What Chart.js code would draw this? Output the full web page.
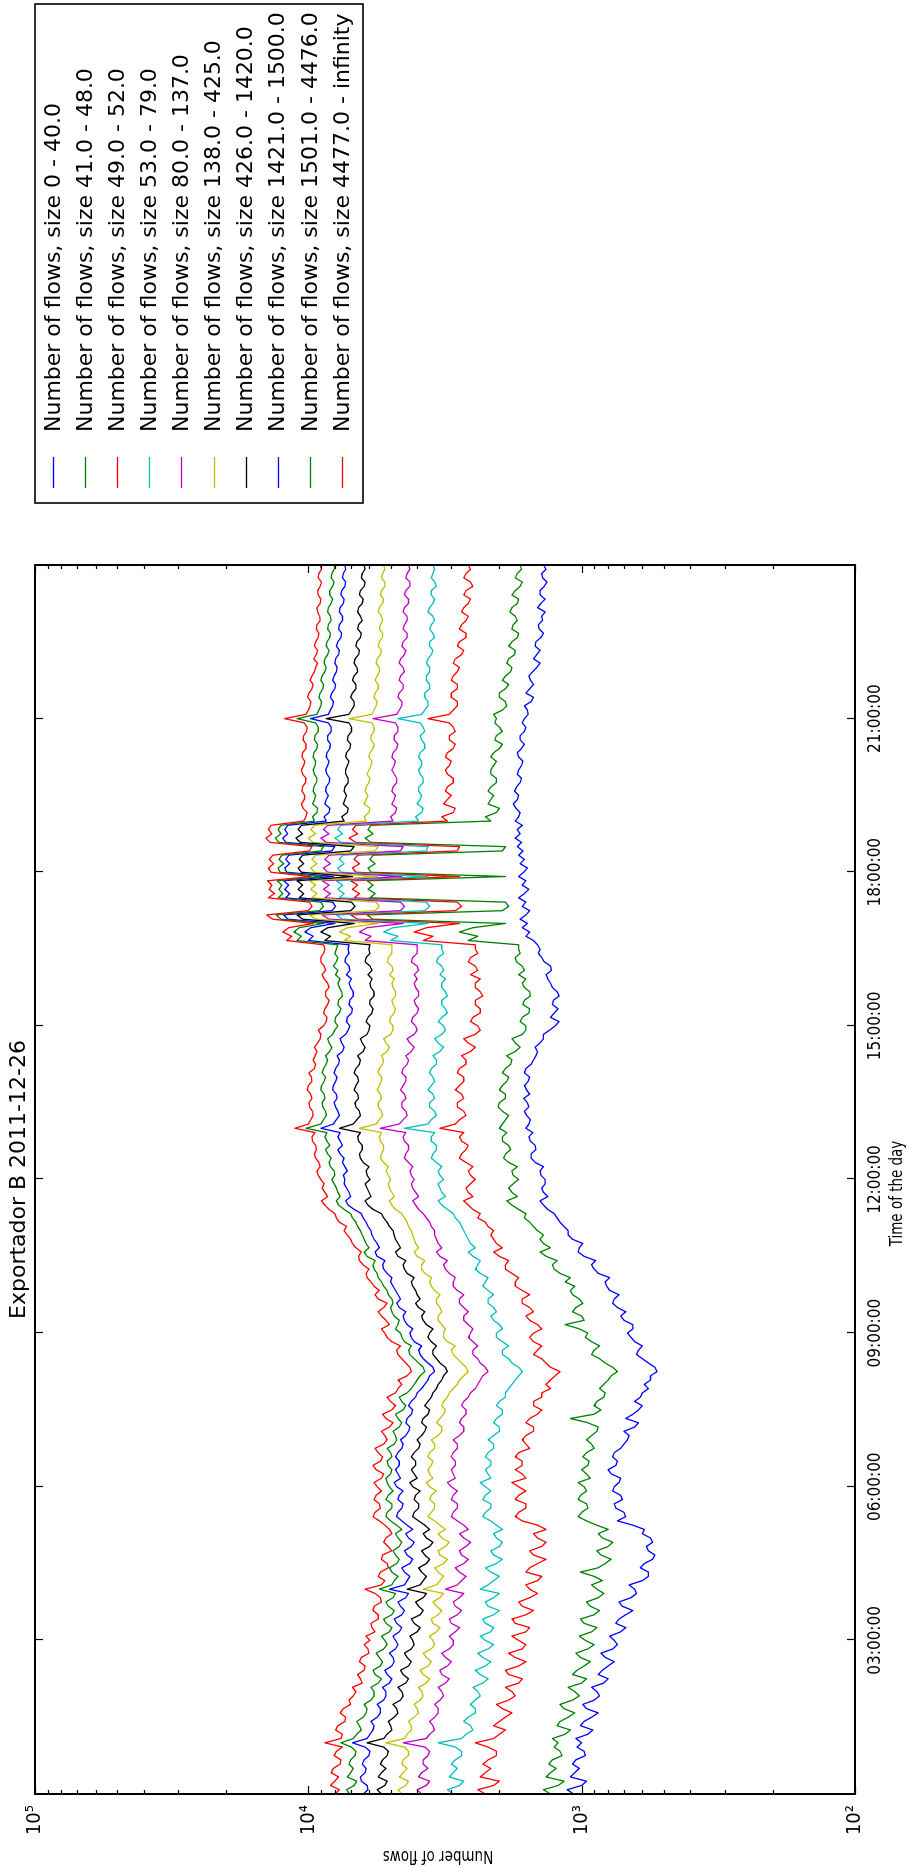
<!DOCTYPE html>
<html>
<head>
<meta charset="utf-8">
<script src="https://cdn.jsdelivr.net/npm/chart.js@4.4.1/dist/chart.umd.min.js"></script>
<style>
  html, body { margin: 0; padding: 0; background: #fff; }
  body { width: 910px; height: 1867px; overflow: hidden; position: relative; }
  /* the landscape figure is turned a quarter turn counter-clockwise */
  #turn { position: absolute; left: 0; top: 0; width: 1867px; height: 910px;
          transform-origin: 0 0; transform: translateY(1867px) rotate(-90deg); }
  canvas { display: block; }
</style>
</head>
<body>
<div id="turn"><canvas id="chart" width="1867" height="910"></canvas></div>
<script>
// one sample every 5 minutes, 00:00 through 24:00 (289 samples per series)
const sampleStepMinutes = 5;

// flows per sample, one row per hour (:00 ... :55), final value at 24:00
const f0_40 = [
  1070,1130,1000,960,1100,1060,1020,1080,1050,970,980,1040,
  1000,1050,950,910,1010,980,920,870,960,990,900,860,
  880,920,830,800,870,840,800,760,820,850,770,740,
  760,790,720,690,750,730,690,650,710,730,660,630,
  640,670,600,570,570,610,590,550,540,570,580,550,
  560,600,590,650,740,690,700,750,760,710,720,770,
  760,730,720,780,800,750,740,770,760,720,700,680,
  670,700,640,620,690,650,620,600,640,610,600,570,
  590,560,560,530,540,570,600,630,620,600,640,660,
  680,650,650,700,720,690,740,770,760,730,790,810,
  820,790,870,900,920,890,980,1030,1020,990,1080,1120,
  1120,1160,1200,1230,1260,1330,1380,1420,1330,1380,1400,1360,
  1360,1410,1420,1380,1480,1530,1530,1470,1480,1540,1560,1510,
  1600,1560,1540,1590,1620,1560,1580,1630,1550,1590,1620,1570,
  1550,1620,1600,1530,1500,1470,1450,1480,1420,1380,1380,1310,
  1250,1210,1300,1260,1220,1280,1270,1210,1230,1280,1300,1330,
  1350,1290,1300,1370,1400,1440,1420,1450,1500,1600,1550,1650,
  1580,1680,1600,1550,1650,1600,1700,1620,1560,1650,1600,1700,
  1630,1580,1680,1620,1700,1640,1720,1660,1750,1680,1720,1650,
  1750,1700,1680,1740,1780,1720,1700,1760,1730,1680,1660,1720,
  1700,1660,1640,1700,1720,1660,1620,1680,1680,1620,1600,1650,
  1620,1570,1580,1620,1530,1500,1600,1550,1500,1540,1560,1510,
  1460,1420,1500,1460,1420,1480,1470,1410,1380,1430,1440,1390,
  1400,1360,1450,1410,1360,1420,1420,1370,1340,1390,1400,1350,
  1380
];
const f41_48 = [
  1300,1380,1220,1160,1350,1300,1240,1320,1280,1180,1200,1260,
  1220,1280,1150,1100,1230,1200,1120,1060,1160,1200,1080,1020,
  1060,1120,1000,960,1080,1040,980,930,1010,1050,950,900,
  970,1020,920,880,980,1010,900,860,930,960,870,830,
  880,920,840,900,1010,870,820,780,850,880,800,770,
  840,870,800,880,960,1030,1000,950,960,1030,1010,960,
  980,1030,930,960,1000,950,940,990,960,900,920,960,
  920,880,870,950,1100,900,850,900,880,830,820,860,
  830,800,780,740,770,820,860,920,900,860,920,970,
  950,1020,1150,980,1000,1080,1050,990,1020,1080,1100,1060,
  1150,1100,1200,1260,1280,1230,1350,1420,1300,1380,1420,1380,
  1450,1500,1550,1620,1600,1700,1800,1880,1720,1800,1850,1780,
  1700,1780,1800,1720,1850,1930,1900,1820,1850,1950,1950,1880,
  2000,1950,1900,1850,1950,2020,2000,1900,1900,2000,1950,1880,
  1850,1950,1900,1820,1800,1880,1750,1680,1750,1800,1650,1600,
  1600,1680,1650,1560,1550,1640,1620,1540,1550,1620,1650,1600,
  1700,1620,1650,1730,1750,1680,1700,1700,2600,2400,2800,2500,
  1900,5800,6100,1950,1850,1900,5950,5700,6050,5800,6100,1900,
  5900,6050,5700,5950,5800,1950,1900,5900,6200,5800,6050,5900,
  2150,2250,2050,2000,2200,2150,2100,2200,2150,2050,2050,2150,
  2150,2100,2050,2150,2100,2000,1950,2080,2050,1950,2000,2080,
  2050,2100,1950,1880,1900,2000,2000,1900,1850,1950,1900,1820,
  1800,1880,1850,1760,1750,1850,1800,1720,1700,1800,1780,1720,
  1750,1830,1800,1720,1700,1800,1750,1680,1650,1750,1720,1660,
  1680
];
const f49_52 = [
  2250,2400,2100,2000,2350,2250,2150,2300,2200,2050,2050,2200,
  2450,2100,2000,1900,2100,2000,1900,1800,1950,2050,1850,1750,
  1800,1900,1700,1650,1850,1900,1700,1600,1750,1850,1650,1600,
  1700,1800,1600,1550,1750,1800,1600,1500,1650,1700,1550,1450,
  1550,1600,1450,1400,1600,1550,1450,1350,1500,1550,1400,1350,
  1450,1500,1350,1450,1650,1750,1700,1600,1600,1750,1700,1600,
  1700,1800,1600,1650,1750,1650,1650,1750,1700,1550,1600,1650,
  1600,1500,1500,1600,1550,1450,1400,1500,1500,1400,1400,1300,
  1350,1300,1250,1200,1300,1350,1400,1500,1450,1400,1500,1550,
  1500,1400,1450,1550,1600,1500,1550,1650,1650,1550,1650,1750,
  1750,1700,1800,1900,1900,1850,2000,2100,1950,2050,2100,2150,
  2100,2200,2250,2400,2350,2500,2600,2700,2500,2600,2650,2550,
  2450,2550,2600,2500,2650,2800,2750,2650,2600,2750,2800,2700,
  3300,2900,2800,2650,2700,2850,2850,2700,2750,2900,2800,2700,
  2700,2850,2800,2650,2650,2750,2550,2450,2600,2700,2450,2350,
  2400,2550,2500,2350,2350,2450,2450,2300,2350,2450,2450,2350,
  2550,2400,2450,2600,2550,2400,2450,2450,3800,3500,4100,3700,
  2800,6600,7000,2900,2750,2850,6800,6500,6900,6600,7000,2800,
  6700,6900,6500,6800,6600,2850,2800,6700,7100,6600,6900,6700,
  3100,3250,2950,2900,3200,3100,3000,3150,3100,2950,2950,3100,
  3150,3050,3000,3150,3100,2950,2900,3050,3050,2900,2950,3050,
  3650,3050,2950,2850,2850,3000,3000,2850,2850,3000,2950,2850,
  2800,2950,2900,2750,2700,2850,2800,2650,2650,2800,2750,2650,
  2600,2750,2700,2600,2550,2700,2650,2500,2550,2700,2650,2550,
  2600
];
const f53_79 = [
  2950,3100,2800,2700,3050,2950,2850,3000,2900,2750,2750,2900,
  3350,2750,2650,2500,2550,2700,2600,2450,2450,2550,2450,2350,
  2400,2500,2300,2200,2350,2450,2250,2150,2300,2400,2200,2100,
  2250,2350,2150,2100,2250,2300,2100,2000,2200,2250,2100,2000,
  2350,2200,2100,2000,2150,2250,2050,1950,2100,2150,2000,1950,
  2050,2100,1950,2050,2150,2300,2250,2150,2150,2300,2250,2150,
  2250,2350,2150,2200,2250,2150,2150,2250,2200,2100,2100,2200,
  2100,2000,2000,2100,2050,1950,1950,2050,2000,1900,1900,1850,
  1800,1750,1700,1650,1700,1800,1850,1950,1950,1850,1950,2050,
  2050,1950,2000,2100,2150,2050,2100,2200,2200,2100,2200,2300,
  2250,2200,2350,2450,2400,2350,2500,2600,2450,2550,2600,2650,
  2700,2750,2800,2900,2950,3100,3250,3350,3150,3250,3300,3350,
  3200,3300,3350,3250,3400,3550,3500,3400,3400,3550,3550,3450,
  4450,3650,3550,3400,3450,3600,3600,3450,3500,3650,3550,3450,
  3500,3600,3550,3400,3400,3500,3300,3200,3350,3450,3250,3150,
  3200,3350,3250,3100,3150,3250,3250,3100,3150,3250,3250,3150,
  3300,3200,3250,3400,3350,3200,3250,3250,5000,4700,5300,4900,
  3650,7500,7900,3750,3600,3700,7700,7400,7800,7500,7900,3650,
  7600,7800,7400,7700,7500,3700,3650,7600,8000,7500,7800,7600,
  3950,4050,3850,3800,4000,3900,3850,3950,3950,3800,3800,3900,
  3950,3850,3850,3950,3900,3750,3750,3850,3900,3750,3800,3900,
  4700,3850,3750,3650,3650,3750,3750,3600,3600,3700,3700,3600,
  3600,3700,3650,3550,3500,3600,3600,3450,3500,3600,3550,3450,
  3500,3650,3600,3500,3450,3550,3550,3400,3450,3550,3500,3450,
  3500
];
const f80_137 = [
  3850,4000,3700,3600,3950,3850,3650,3800,3800,3650,3600,3750,
  4500,3700,3600,3450,3500,3600,3450,3350,3350,3450,3300,3200,
  3250,3350,3150,3050,3250,3300,3100,3000,3150,3250,3050,2950,
  2950,3050,2900,2800,3000,3050,2850,2750,2900,2950,2800,2700,
  3150,2850,2750,2650,2800,2900,2700,2600,2750,2800,2650,2550,
  2700,2800,2600,2700,2850,3000,2950,2850,2850,3000,2950,2850,
  3000,3100,2900,2950,3000,2900,2900,3000,2950,2850,2850,2950,
  2800,2700,2700,2800,2750,2650,2650,2750,2700,2600,2550,2450,
  2400,2350,2300,2200,2250,2350,2400,2500,2500,2400,2500,2600,
  2550,2500,2600,2700,2700,2600,2700,2800,2800,2700,2850,2950,
  2950,2900,3050,3150,3200,3100,3300,3400,3250,3350,3400,3450,
  3450,3550,3600,3700,3800,3950,4050,4150,3950,4050,4150,4200,
  4100,4200,4250,4150,4300,4450,4400,4300,4300,4450,4500,4400,
  5450,4650,4500,4350,4400,4550,4550,4400,4450,4600,4500,4400,
  4400,4550,4500,4350,4300,4400,4200,4100,4250,4350,4100,4000,
  4050,4200,4150,4000,3950,4050,4100,3950,3950,4050,4100,4000,
  4100,3950,4000,4200,4150,4000,4000,4000,6200,5900,6500,6100,
  4500,8400,8900,4600,4450,4600,8700,8300,8800,8400,8900,4550,
  8500,8800,8300,8700,8400,4600,4500,8600,9000,8400,8800,8500,
  4900,5000,4800,4750,4950,4850,4800,4950,4900,4750,4750,4850,
  4950,4850,4800,4950,4900,4750,4700,4850,4850,4700,4700,4800,
  5800,4750,4650,4550,4550,4700,4650,4500,4500,4650,4600,4450,
  4500,4650,4600,4450,4400,4550,4500,4350,4350,4500,4450,4350,
  4350,4500,4450,4300,4300,4450,4400,4250,4250,4400,4350,4250,
  4300
];
const f138_425 = [
  4550,4700,4400,4300,4650,4500,4350,4550,4500,4300,4300,4450,
  5200,4450,4350,4200,4200,4300,4100,3950,4000,4100,3900,3800,
  3850,3950,3700,3600,3800,3900,3650,3550,3700,3800,3550,3450,
  3500,3600,3400,3300,3500,3550,3350,3250,3400,3500,3300,3200,
  3800,3400,3300,3200,3350,3450,3200,3100,3300,3350,3150,3050,
  3250,3350,3150,3300,3450,3650,3550,3450,3450,3600,3550,3400,
  3600,3700,3500,3600,3650,3550,3500,3650,3600,3450,3450,3550,
  3350,3250,3250,3400,3300,3200,3150,3250,3200,3100,3050,2950,
  2850,2800,2700,2600,2650,2750,2850,2950,3000,2900,3100,3200,
  3200,3150,3250,3350,3350,3250,3300,3400,3400,3300,3450,3550,
  3600,3550,3750,3850,3850,3750,4000,4100,3950,4050,4100,4150,
  4200,4300,4350,4450,4550,4800,4950,5050,4850,4950,5050,5100,
  5000,5100,5200,5100,5300,5450,5400,5300,5300,5450,5500,5400,
  6500,5650,5500,5350,5400,5550,5550,5400,5450,5600,5500,5400,
  5400,5550,5500,5350,5300,5400,5150,5050,5200,5300,5000,4900,
  4900,5050,5000,4850,4800,4900,4950,4800,4800,4900,4950,4850,
  5050,4900,4950,5150,5100,4950,4950,4950,7400,7000,7700,7200,
  5550,9400,9900,5700,5500,5650,9700,9300,9800,9400,9900,5600,
  9500,9800,9300,9700,9400,5700,5550,9600,10000,9400,9800,9500,
  6150,6250,6000,5950,6250,6150,6050,6200,6150,6000,5950,6100,
  6000,5900,5850,6000,5950,5800,5750,5900,5900,5750,5750,5850,
  7100,5850,5750,5650,5600,5750,5700,5550,5550,5700,5600,5500,
  5500,5650,5600,5450,5400,5550,5500,5350,5350,5500,5450,5350,
  5400,5550,5500,5350,5300,5450,5400,5250,5250,5400,5350,5250,
  5300
];
const f426_1420 = [
  5400,5600,5250,5150,5550,5400,5200,5450,5350,5150,5100,5300,
  6100,5300,5150,4950,5000,5100,4850,4700,4750,4900,4600,4500,
  4550,4700,4400,4300,4500,4600,4300,4200,4350,4450,4200,4100,
  4150,4250,4000,3900,4100,4200,3900,3800,3950,4050,3800,3700,
  4350,3900,3800,3700,3850,3950,3700,3600,3750,3850,3600,3500,
  3700,3800,3600,3750,3950,4150,4100,3950,3950,4100,4050,3900,
  4150,4250,4000,4100,4200,4050,4050,4200,4100,3950,3900,4000,
  3850,3750,3700,3850,3800,3650,3600,3750,3650,3550,3500,3400,
  3350,3250,3200,3100,3150,3300,3400,3500,3500,3400,3550,3650,
  3600,3500,3700,3800,3850,3750,3950,4050,3900,4000,4050,4150,
  4200,4100,4350,4450,4500,4400,4700,4800,4600,4700,4800,4850,
  4900,5050,5150,5300,5400,5800,6050,6200,5900,6000,6100,6200,
  5950,6100,6150,6000,6300,6450,6500,6350,6350,6550,6600,6450,
  7700,6850,6650,6450,6500,6700,6750,6550,6600,6800,6700,6550,
  6600,6800,6700,6500,6450,6600,6300,6200,6350,6450,6100,6000,
  5950,6150,6050,5850,5800,5950,5950,5750,5750,5900,5950,5850,
  6050,5850,5950,6200,6150,5950,6000,5950,8700,8300,9000,8500,
  6800,10500,11000,7000,6750,6950,10800,10400,10900,10500,11000,6900,
  10600,10900,10400,10800,10500,7000,6800,10700,11100,10500,10900,10600,
  7400,7550,7200,7150,7450,7350,7250,7400,7350,7150,7150,7300,
  7300,7200,7100,7300,7250,7050,7000,7200,7150,6950,6950,7100,
  8600,7100,6950,6800,6800,7000,6900,6700,6700,6900,6800,6600,
  6650,6800,6750,6550,6500,6700,6650,6450,6400,6600,6550,6350,
  6450,6600,6550,6350,6300,6500,6450,6250,6200,6400,6350,6200,
  6250
];
const f1421_1500 = [
  6300,6050,6100,6400,6450,6200,6150,6350,6250,6000,5950,6200,
  6900,6100,5950,5800,5750,5900,5600,5450,5450,5600,5300,5200,
  5200,5350,5050,4950,5150,5250,4950,4850,4900,5050,4800,4700,
  4800,4900,4650,4550,4750,4850,4550,4450,4600,4700,4400,4300,
  5050,4450,4350,4250,4450,4550,4250,4150,4350,4450,4200,4100,
  4300,4400,4150,4350,4550,4750,4700,4550,4500,4700,4650,4500,
  4750,4850,4600,4700,4800,4650,4650,4800,4700,4550,4500,4600,
  4400,4300,4250,4400,4350,4200,4150,4300,4200,4050,4000,3850,
  3750,3650,3600,3450,3500,3650,3800,3900,3950,3850,4100,4200,
  4250,4150,4350,4450,4500,4400,4650,4750,4600,4700,4800,4900,
  5000,4950,5150,5300,5350,5250,5600,5700,5500,5600,5750,5850,
  5900,6050,6150,6300,6400,6800,7150,7300,7000,7100,7250,7400,
  7350,7450,7200,7350,7500,7400,7650,7800,7500,7650,7800,7650,
  9000,8100,7900,7700,7800,7950,8050,7850,7900,8150,8100,7950,
  7850,8050,7950,7750,7700,7850,7500,7400,7550,7650,7300,7150,
  7050,7250,7200,6950,6900,7100,7050,6850,6850,7000,7100,6950,
  7250,7050,7100,7350,7300,7100,7150,7100,10000,9600,10300,9800,
  8000,11900,12300,8200,7950,8150,12100,11700,12200,11800,12300,8100,
  12000,12200,11700,12100,11800,8200,8000,12100,12400,11900,12200,11900,
  8600,8750,8400,8350,8700,8600,8450,8650,8600,8400,8350,8550,
  8650,8500,8400,8600,8550,8350,8300,8500,8500,8250,8250,8450,
  9800,8450,8300,8150,8100,8300,8200,8000,7950,8150,8050,7900,
  7850,8000,7950,7750,7700,7900,7800,7600,7550,7750,7700,7500,
  7500,7700,7650,7450,7400,7600,7550,7350,7300,7500,7450,7300,
  7350
];
const f1501_4476 = [
  7050,7250,6800,6650,7200,7000,6850,7100,7000,6750,6700,6950,
  7600,6850,6650,6400,6500,6650,6300,6150,6100,6250,5900,5750,
  5750,5900,5550,5400,5700,5800,5450,5350,5500,5650,5300,5150,
  5250,5400,5050,4950,5200,5300,4950,4850,5100,5200,4900,4800,
  5500,4950,4850,4700,4950,5050,4750,4650,4800,4900,4650,4550,
  4700,4800,4550,4750,5000,5200,5150,4950,4950,5200,5100,4900,
  5050,5150,5200,5000,4950,5100,5150,4950,5000,5150,4850,4750,
  4800,4900,4650,4550,4700,4800,4500,4400,4550,4650,4350,4200,
  4100,4000,3900,3750,3800,3950,4100,4250,4300,4200,4450,4550,
  4600,4800,4700,4650,4850,4950,5000,4900,4950,5100,5150,5300,
  5400,5550,5600,5750,5800,5700,6100,6250,6000,6150,6250,6350,
  6450,6600,6700,6900,7000,7400,7750,7900,7650,7800,7900,8050,
  8200,8000,8050,8300,8400,8250,8500,8650,8350,8550,8700,8550,
  10200,9000,8800,8600,8650,8850,8900,8700,8750,9000,8950,8750,
  8650,8900,8800,8600,8500,8650,8350,8200,8400,8500,8150,8000,
  7800,8000,7950,7700,7600,7800,7750,7500,7550,7700,7800,7650,
  7950,7800,8100,7900,7800,8000,7900,7800,11000,10600,11300,10800,
  8800,12600,13100,9100,8800,9000,12900,12400,12800,12500,13000,8900,
  12700,12900,12300,12800,12500,9000,8800,12800,13200,12600,12900,12600,
  9500,9650,9300,9250,9650,9500,9400,9600,9550,9350,9300,9500,
  9600,9450,9400,9600,9550,9300,9250,9500,9450,9200,9200,9400,
  11000,9300,9150,9000,8950,9150,9050,8850,8800,9000,8900,8700,
  8600,8750,8700,8500,8400,8600,8550,8350,8300,8500,8450,8250,
  8300,8500,8450,8250,8150,8350,8350,8150,8050,8250,8200,8050,
  8000
];
const f4477_inf = [
  7990,7700,8300,8000,7750,8250,8100,7650,7600,8050,7900,7500,
  8700,7600,7500,7950,7800,7350,7300,7650,7450,7000,7100,6850,
  6700,6900,6350,6450,6600,6250,6200,6500,6400,6000,6050,6250,
  5950,6150,5700,5850,5900,5550,5550,5800,5750,5400,5450,5700,
  6200,5400,5250,5550,5450,5100,5150,5400,5350,4950,5100,5300,
  5200,4950,5050,5250,5500,5800,5700,5450,5500,5750,5650,5400,
  5600,5750,5400,5300,5650,5800,5450,5350,5550,5700,5300,5150,
  5250,5400,5050,4900,5200,5350,4950,4800,5000,5150,4800,4700,
  4550,4700,4350,4200,4250,4400,4550,4700,4750,4600,4950,5150,
  5250,5400,5050,5200,5400,5550,5300,5150,5550,5700,5500,5750,
  5900,6100,6150,6000,6300,6500,6550,6400,6700,6900,7000,7200,
  7400,7250,7700,7900,8000,8400,8700,8950,8500,8700,8900,8750,
  9000,9200,9300,9050,9150,9400,9500,9350,9400,9650,9700,9450,
  11200,10000,9800,9600,9650,9900,9950,9700,9800,10100,10000,9700,
  9750,9950,9500,9400,9600,9450,9300,9500,9250,9050,9000,9200,
  8800,8600,8550,8800,8700,8500,8400,8650,8650,8400,8500,8750,
  8900,8650,8750,9000,9000,8800,8700,8800,12000,11500,12400,11800,
  9600,13500,14200,10000,9700,9900,14000,13300,13900,13600,14100,9800,
  13700,14000,13400,13900,13500,9900,9700,13800,14300,13600,14000,13700,
  10400,10200,10100,10450,10600,10350,10300,10550,10500,10250,10200,10500,
  10600,10400,10300,10550,10500,10200,10200,10450,10400,10150,10100,10350,
  12200,10200,10000,9850,9800,10050,9950,9700,9600,9850,9700,9500,
  9400,9250,9550,9350,9250,9500,9400,9200,9150,9350,9300,9050,
  9100,9250,9300,9050,9000,9200,9250,9050,8950,9200,9150,8950,
  9050
];

const seriesNames = [
  'Number of flows, size 0 - 40.0',
  'Number of flows, size 41.0 - 48.0',
  'Number of flows, size 49.0 - 52.0',
  'Number of flows, size 53.0 - 79.0',
  'Number of flows, size 80.0 - 137.0',
  'Number of flows, size 138.0 - 425.0',
  'Number of flows, size 426.0 - 1420.0',
  'Number of flows, size 1421.0 - 1500.0',
  'Number of flows, size 1501.0 - 4476.0',
  'Number of flows, size 4477.0 - infinity'
];
const seriesValues = [f0_40, f41_48, f49_52, f53_79, f80_137, f138_425, f426_1420, f1421_1500, f1501_4476, f4477_inf];
const seriesColors = ['#0000ff', '#008000', '#ff0000', '#00bfbf', '#bf00bf', '#bfbf00', '#000000', '#0000ff', '#008000', '#ff0000'];

const timeTicks = [180, 360, 540, 720, 900, 1080, 1260];
const timeTickLabels = ['03:00:00', '06:00:00', '09:00:00', '12:00:00', '15:00:00', '18:00:00', '21:00:00'];
const decadeTicks = [100, 1000, 10000, 100000];
const decadeLabels = ['10\u00B2', '10\u00B3', '10\u2074', '10\u2075'];

const chartTitle = 'Exportador B 2011-12-26';
const xTitle = 'Time of the day';
const yTitle = 'Number of flows';
const FONT = "'DejaVu Sans', sans-serif";
const NARROW = "'DejaVu Sans Condensed', 'DejaVu Sans', sans-serif";

// inward tick marks on all four sides plus the axes frame
const frameTicks = {
  id: 'frameTicks',
  afterDatasetsDraw(chart) {
    const { ctx, chartArea: a, scales: { x, y } } = chart;
    ctx.save();
    ctx.strokeStyle = '#000';
    ctx.lineWidth = 1.2;
    const seg = (x1, y1, x2, y2) => { ctx.beginPath(); ctx.moveTo(x1, y1); ctx.lineTo(x2, y2); ctx.stroke(); };
    for (const t of timeTicks) {
      const px = Math.round(x.getPixelForValue(t)) + 0.5;
      seg(px, a.bottom, px, a.bottom - 8);
      seg(px, a.top, px, a.top + 8);
    }
    for (let d = 0; d < decadeTicks.length; d++) {
      for (let k = 1; k <= 9; k++) {
        const v = decadeTicks[d] * k;
        if (v > decadeTicks[decadeTicks.length - 1]) break;
        const py = Math.round(y.getPixelForValue(v)) + 0.5;
        const len = k === 1 ? 8 : 4;
        seg(a.left, py, a.left + len, py);
        seg(a.right, py, a.right - len, py);
      }
    }
    ctx.lineWidth = 2;
    ctx.strokeRect(a.left, a.top, a.right - a.left, a.bottom - a.top);
    ctx.restore();
  }
};

// figure title and the two axis titles (narrow lettering)
const figureText = {
  id: 'figureText',
  afterDraw(chart) {
    const { ctx, chartArea: a } = chart;
    const cx = (a.left + a.right) / 2, cy = (a.top + a.bottom) / 2;
    ctx.save();
    ctx.fillStyle = '#000';
    ctx.textAlign = 'center';
    ctx.font = '22px ' + FONT;
    ctx.textBaseline = 'alphabetic';
    ctx.fillText(chartTitle, cx, a.top - 10);

    ctx.font = '17px ' + NARROW;
    ctx.textBaseline = 'middle';
    ctx.save();
    ctx.translate(cx - 14, a.bottom + 43);
    ctx.scale(0.88, 1);
    ctx.fillText(xTitle, 0, 0);
    ctx.restore();

    ctx.save();
    ctx.translate(a.left - 61, cy - 7);
    ctx.rotate(-Math.PI / 2);
    ctx.scale(0.88, 1);
    ctx.fillText(yTitle, 0, 0);
    ctx.restore();
    ctx.restore();
  }
};

// boxed legend to the right of the axes
const sideLegend = {
  id: 'sideLegend',
  afterDraw(chart) {
    const { ctx, chartArea: a } = chart;
    const left = a.right + 62, top = a.top, w = 499, h = 328;
    ctx.save();
    ctx.fillStyle = '#fff';
    ctx.fillRect(left, top, w, h);
    ctx.strokeStyle = '#000';
    ctx.lineWidth = 1.6;
    ctx.strokeRect(left, top, w, h);
    ctx.font = '22px ' + FONT;
    ctx.textAlign = 'left';
    ctx.textBaseline = 'middle';
    chart.data.datasets.forEach((ds, i) => {
      const cy = top + 18 + i * 32.1;
      ctx.strokeStyle = ds.borderColor;
      ctx.lineWidth = 1.3;
      ctx.beginPath();
      ctx.moveTo(left + 15, Math.round(cy) + 0.5);
      ctx.lineTo(left + 46, Math.round(cy) + 0.5);
      ctx.stroke();
      ctx.fillStyle = '#000';
      ctx.fillText(ds.label, left + 71, cy + 1);
    });
    ctx.restore();
  }
};

const datasets = seriesValues.map((vals, i) => ({
  label: seriesNames[i],
  data: vals.map((v, j) => ({ x: j * sampleStepMinutes, y: v })),
  borderColor: seriesColors[i],
  backgroundColor: seriesColors[i],
  borderWidth: 1.3,
  borderJoinStyle: 'round',
  pointRadius: 0,
  fill: false,
  tension: 0,
  order: seriesValues.length - i
}));

new Chart(document.getElementById('chart'), {
  type: 'line',
  data: { datasets },
  plugins: [frameTicks, figureText, sideLegend],
  options: {
    responsive: false,
    animation: false,
    devicePixelRatio: 1,
    layout: { padding: { left: 0, right: 565, top: 35, bottom: 0 } },
    plugins: { legend: { display: false }, title: { display: false }, tooltip: { enabled: false } },
    scales: {
      x: {
        type: 'linear', min: 0, max: 1440,
        grid: { display: false, drawTicks: false },
        border: { display: false },
        afterBuildTicks: s => { s.ticks = timeTicks.map(v => ({ value: v })); },
        afterFit: s => { s.height = 55; },
        ticks: {
          autoSkip: false, maxRotation: 0, minRotation: 0, padding: 10, color: '#000',
          font: { family: NARROW, size: 17 },
          callback: v => { const i = timeTicks.indexOf(v); return i >= 0 ? timeTickLabels[i] : ''; }
        }
      },
      y: {
        type: 'logarithmic', min: 100, max: 100000,
        grid: { display: false, drawTicks: false },
        border: { display: false },
        afterBuildTicks: s => { s.ticks = decadeTicks.map(v => ({ value: v })); },
        afterFit: s => { s.width = 73; },
        ticks: {
          padding: 11, color: '#000',
          font: { family: NARROW, size: 20 },
          callback: v => { const i = decadeTicks.indexOf(v); return i >= 0 ? decadeLabels[i] : ''; }
        }
      }
    }
  }
});
</script>
</body>
</html>
